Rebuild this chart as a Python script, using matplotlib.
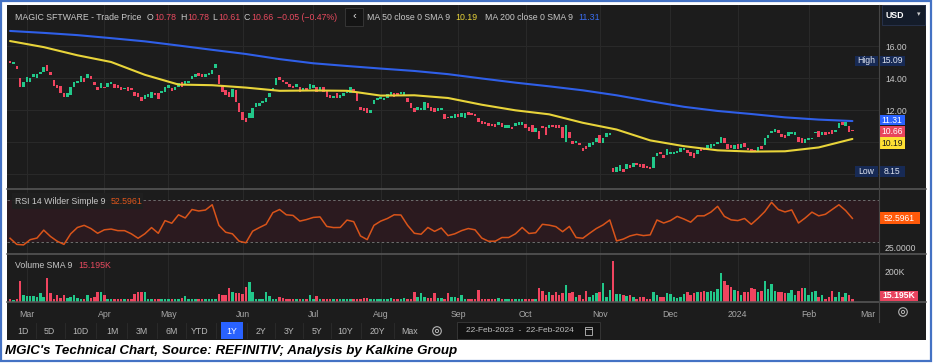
import matplotlib
matplotlib.use('Agg')
import matplotlib.pyplot as plt
import numpy as np
from matplotlib.patches import Rectangle, Circle

plt.rcParams['font.family'] = ['Liberation Sans', 'DejaVu Sans']

# --------------------------
# data (daily bars, 22-Feb-2023 .. 22-Feb-2024)
# --------------------------
opens = [
    15.09, 14.86, 14.75, 13.98, 13.46, 13.73, 13.77, 14.08, 14.00, 14.23,
    14.40, 14.81, 14.40, 13.88, 13.55, 13.50, 13.04, 12.83, 12.94, 13.46,
    13.67, 13.77, 13.98, 14.02, 14.15, 13.77, 13.46, 13.35, 13.46, 13.46,
    13.63, 13.60, 13.56, 13.46, 13.29, 13.46, 13.40, 13.15, 13.04, 12.83,
    12.69, 12.83, 12.77, 13.08, 13.04, 13.04, 13.15, 13.35, 13.40, 13.25,
    13.46, 13.77, 13.60, 13.67, 13.92, 14.08, 14.29, 14.23, 14.08, 14.19,
    14.23, 14.65, 14.19, 13.56, 13.25, 13.15, 12.83, 13.25, 12.42, 11.85,
    11.48, 11.48, 11.48, 12.21, 12.27, 12.42, 12.52, 12.83, 13.19, 13.56,
    14.08, 13.88, 13.77, 13.60, 13.52, 13.46, 13.46, 13.19, 13.40, 13.31,
    13.40, 13.46, 13.25, 13.46, 13.19, 12.94, 12.77, 13.04, 12.73, 12.90,
    13.04, 13.04, 13.31, 13.15, 12.21, 12.15, 12.10, 11.79, 12.35, 12.63,
    12.69, 12.63, 12.77, 12.94, 13.04, 13.08, 13.00, 12.94, 12.77, 12.42,
    12.10, 12.00, 12.00, 12.00, 12.42, 12.21, 12.10, 11.94, 12.00, 11.73,
    11.58, 11.48, 11.52, 11.73, 11.58, 11.52, 11.85, 11.79, 11.75, 11.48,
    11.31, 11.23, 11.17, 11.15, 11.10, 11.06, 11.17, 10.85, 10.90, 10.96,
    11.02, 11.06, 11.06, 11.10, 10.96, 11.06, 10.65, 10.69, 11.02, 10.96,
    10.85, 11.06, 11.06, 11.06, 10.96, 10.02, 10.60, 10.06, 9.92, 9.92,
    9.65, 9.75, 9.71, 9.81, 10.02, 10.44, 9.92, 10.33, 10.44, 8.40,
    8.15, 8.19, 8.31, 8.31, 8.56, 8.46, 8.67, 8.60, 8.60, 8.52,
    8.46, 8.40, 9.15, 9.40, 9.19, 9.19, 9.23, 9.27, 9.29, 9.40,
    9.50, 9.50, 9.35, 9.29, 9.23, 9.60, 9.60, 9.56, 9.65, 9.73,
    9.85, 9.92, 10.23, 9.85, 9.81, 9.56, 9.85, 9.65, 9.92, 9.65,
    9.56, 9.50, 9.35, 9.77, 9.81, 10.23, 10.54, 10.65, 10.75, 10.48,
    10.44, 10.40, 10.48, 10.44, 10.33, 10.23, 9.92, 10.13, 10.19, 10.54,
    10.69, 10.44, 10.60, 10.60, 10.75, 10.60, 10.85, 11.27, 11.02, 11.02,
    10.78,
]
closes = [
    14.92, 14.98, 14.56, 13.46, 13.73, 14.08, 14.02, 14.23, 14.25, 14.40,
    14.71, 14.44, 14.19, 13.50, 13.40, 13.04, 12.83, 13.04, 13.46, 13.77,
    13.80, 14.15, 13.77, 14.25, 13.94, 13.56, 13.25, 13.67, 13.35, 13.67,
    13.73, 13.40, 13.35, 13.25, 13.40, 13.19, 13.25, 12.90, 12.83, 12.56,
    12.94, 12.98, 13.15, 12.94, 12.69, 13.19, 13.46, 13.56, 13.19, 13.46,
    13.67, 13.46, 13.81, 13.81, 14.15, 14.23, 14.15, 14.08, 14.23, 14.29,
    14.50, 14.85, 13.60, 13.15, 12.94, 12.83, 13.31, 12.52, 11.85, 11.38,
    11.23, 11.79, 12.15, 12.42, 12.42, 12.56, 12.73, 13.04, 13.40, 13.98,
    13.88, 13.73, 13.60, 13.46, 13.35, 13.60, 13.15, 13.35, 13.19, 13.60,
    13.58, 13.15, 13.46, 13.15, 12.83, 12.77, 12.90, 12.73, 12.94, 13.04,
    13.25, 13.46, 13.04, 12.56, 12.00, 11.94, 11.79, 12.00, 12.63, 12.77,
    12.83, 12.77, 12.98, 13.15, 12.83, 12.94, 13.15, 13.15, 12.48, 12.15,
    11.90, 12.21, 12.15, 12.48, 12.10, 11.94, 11.90, 12.10, 12.10, 11.42,
    11.48, 11.64, 11.73, 11.56, 11.79, 11.79, 11.69, 11.69, 11.65, 11.27,
    11.15, 11.10, 11.02, 10.98, 10.94, 11.27, 10.96, 11.06, 11.06, 10.81,
    11.21, 11.23, 11.23, 10.90, 10.69, 10.65, 10.85, 10.19, 10.85, 10.44,
    11.06, 10.96, 10.90, 10.85, 10.27, 11.06, 10.23, 9.85, 10.06, 9.81,
    9.44, 9.56, 9.92, 9.98, 10.23, 9.92, 10.27, 10.54, 10.54, 8.15,
    8.46, 8.56, 8.15, 8.60, 8.35, 8.67, 8.56, 8.46, 8.40, 8.40,
    8.31, 9.08, 9.29, 9.23, 9.02, 9.56, 9.35, 9.40, 9.44, 9.60,
    9.65, 9.29, 9.15, 8.98, 9.50, 9.44, 9.48, 9.81, 9.85, 9.85,
    10.02, 10.33, 9.92, 9.56, 9.60, 9.81, 9.56, 9.85, 9.71, 9.50,
    9.35, 9.35, 9.71, 9.56, 10.23, 10.44, 10.69, 10.81, 10.54, 10.33,
    10.27, 10.60, 10.60, 10.65, 9.98, 9.92, 10.19, 10.27, 10.27, 10.65,
    10.33, 10.60, 10.44, 10.48, 10.48, 10.75, 11.17, 11.06, 11.27, 10.60,
    10.66,
]
# volume, thousands of shares
volume_k = [
    22, 11, 18, 138, 44, 40, 40, 38, 33, 55,
    33, 155, 55, 22, 44, 27, 44, 27, 33, 44,
    27, 22, 22, 44, 27, 33, 66, 62, 44, 22,
    18, 22, 18, 18, 18, 22, 22, 49, 62, 66,
    66, 22, 22, 22, 18, 22, 18, 22, 18, 18,
    22, 27, 40, 22, 22, 18, 18, 18, 18, 22,
    18, 22, 49, 44, 44, 93, 62, 55, 55, 49,
    100, 129, 66, 22, 18, 22, 62, 40, 22, 22,
    33, 27, 22, 18, 18, 22, 18, 18, 22, 44,
    22, 40, 22, 22, 22, 18, 18, 22, 22, 18,
    18, 22, 18, 22, 22, 29, 27, 22, 18, 22,
    22, 22, 18, 27, 22, 22, 22, 27, 18, 18,
    66, 33, 55, 33, 27, 27, 55, 27, 27, 22,
    55, 33, 33, 27, 44, 22, 18, 18, 18, 78,
    18, 22, 18, 18, 18, 27, 18, 18, 18, 22,
    22, 18, 18, 18, 18, 18, 18, 89, 71, 44,
    67, 44, 62, 44, 55, 111, 55, 62, 33, 44,
    22, 71, 33, 44, 55, 62, 122, 33, 78, 262,
    49, 49, 44, 40, 44, 33, 18, 33, 33, 22,
    22, 62, 44, 33, 33, 55, 49, 33, 27, 33,
    49, 66, 44, 55, 62, 62, 71, 62, 71, 62,
    84, 189, 138, 111, 100, 78, 71, 44, 62, 66,
    89, 84, 66, 71, 138, 84, 115, 71, 66, 62,
    55, 55, 78, 44, 71, 89, 93, 44, 62, 71,
    33, 44, 22, 33, 71, 33, 66, 33, 55, 44,
    22,
]
# RSI 14, read every second bar
rsi_vals = [
    33.8, 28.0, 27.5, 32.5, 34.0, 41.5, 35.5, 31.0, 28.0, 38.0,
    44.0, 46.0, 43.0, 38.5, 41.8, 42.5, 41.0, 41.0, 38.0, 33.8,
    38.0, 43.9, 38.5, 50.5, 48.0, 56.0, 53.0, 61.0, 59.6, 60.5,
    65.5, 46.0, 39.5, 38.0, 31.0, 29.5, 40.5, 43.9, 47.0, 58.0,
    61.0, 56.0, 55.4, 50.0, 51.5, 53.5, 54.0, 45.0, 43.9, 44.0,
    51.0, 49.5, 36.0, 32.5, 46.0, 50.0, 52.5, 56.0, 55.8, 46.0,
    38.5, 37.6, 44.0, 40.3, 43.5, 36.3, 38.0, 41.0, 43.0, 41.8,
    34.0, 31.0, 31.0, 34.5, 34.5, 38.0, 44.0, 38.3, 39.0, 47.0,
    46.2, 44.8, 40.0, 45.0, 34.5, 33.8, 38.5, 43.0, 46.4, 51.1,
    31.3, 33.0, 36.0, 37.5, 36.3, 37.0, 51.1, 48.2, 50.5, 54.5,
    52.0, 49.0, 55.0, 55.0, 58.5, 64.0, 54.5, 51.2, 50.5, 52.5,
    47.0, 52.7, 59.0, 67.8, 61.0, 58.7, 60.6, 48.2, 53.0, 58.5,
    55.0, 56.5, 61.0, 65.5, 60.0, 52.6,
]
# moving averages, read every tenth bar
ma50 = [16.31, 15.93, 15.42, 15.00, 14.20, 13.59, 13.55, 13.40, 13.20, 13.22,
        13.20, 12.90, 12.92, 12.75, 12.33, 11.98, 11.73, 11.20, 10.78, 10.10,
        9.74, 9.48, 9.40, 9.42, 9.66, 10.19]
ma200 = [16.94, 16.82, 16.68, 16.49, 16.29, 16.03, 15.76, 15.50, 15.18, 14.92,
         14.75, 14.59, 14.44, 14.24, 13.97, 13.71, 13.48, 13.23, 12.92, 12.55,
         12.20, 11.94, 11.75, 11.54, 11.40, 11.31]

month_starts = [5, 28, 47, 69, 90, 110, 133, 153, 175, 196, 216, 237, 257]
month_labels = ['Mar', 'Apr', 'May', 'Jun', 'Jul', 'Aug', 'Sep', 'Oct', 'Nov',
                'Dec', '2024', 'Feb', 'Mar']
range_buttons = ['1D', '5D', '10D', '1M', '3M', '6M', 'YTD', '1Y', '2Y', '3Y',
                 '5Y', '10Y', '20Y', 'Max']
button_x = [23, 49, 80, 112, 142, 172, 200, 232, 261, 289, 317, 345, 377, 410]

# --------------------------
# colours
# --------------------------
BG = '#1c1c1c'
GRID = '#2a2a2a'
UP = '#22c88a'
DOWN = '#f0445f'
TXT = '#c8c8c8'
NAVY = '#172a55'
NARROW = ['Liberation Sans Narrow', 'Liberation Sans']

W, H = 933, 363
fig = plt.figure(figsize=(W / 100, H / 100), dpi=100)
fig.patch.set_facecolor('white')


def rect_of(x0, y0, x1, y1):
    # pixel box (origin top-left) -> figure fraction rect
    return [x0 / W, 1 - y1 / H, (x1 - x0) / W, (y1 - y0) / H]


bg = fig.add_axes([0, 0, 1, 1], zorder=0)
bg.set_xlim(0, W)
bg.set_ylim(H, 0)
bg.axis('off')
bg.add_patch(Rectangle((7, 5), 919, 335, fc=BG, ec='none'))
bg.add_patch(Rectangle((1, 1), W - 3, H - 3, fc='none', ec='#4472c4', lw=1.6))

ax_p = fig.add_axes(rect_of(7, 5, 879, 189), zorder=1)
ax_r = fig.add_axes(rect_of(7, 189, 879, 254), zorder=1)
ax_v = fig.add_axes(rect_of(7, 254, 879, 302), zorder=1)

idx = np.arange(len(closes))
o = np.array(opens)
c = np.array(closes)
up = c >= o
colors = np.where(up, UP, DOWN)

for ax in (ax_p, ax_r, ax_v):
    ax.set_facecolor(BG)
    for s in ax.spines.values():
        s.set_visible(False)
    ax.set_xlim(-0.9, 257.9)
    for m in month_starts[:-1]:
        ax.axvline(m, color=GRID, lw=0.7, zorder=0)
    ax.yaxis.tick_right()
    ax.tick_params(axis='y', length=0, pad=4.3, labelsize=6.2, labelcolor=TXT)
    ax.tick_params(axis='x', length=0)
    ax.set_xticks([])

# price panel
ax_p.set_ylim(7.0625, 18.5625)
for lv in [8, 10, 12, 14, 16]:
    ax_p.axhline(lv, color=GRID, lw=0.7, zorder=0)
body_lo = np.minimum(o, c)
body_h = np.maximum(np.abs(c - o), 0.04)
ax_p.bar(idx, body_h, bottom=body_lo, width=0.74, color=colors, linewidth=0, zorder=2)
ma_idx = np.arange(0, len(closes), 10)
ax_p.plot(ma_idx, ma200, color='#2f5fe8', lw=1.5, zorder=3, solid_capstyle='round')
ax_p.plot(ma_idx, ma50, color='#e8d43a', lw=1.5, zorder=3, solid_capstyle='round')
ax_p.set_yticks([12, 14, 16])
ax_p.set_yticklabels(['12.00', '14.00', '16.00'])

# RSI panel
ax_r.set_ylim(18.9, 80.4)
ax_r.axhspan(30, 70, fc='#2b1a1f', ec='none', zorder=0)
for lv in [30, 70]:
    ax_r.axhline(lv, color='#6e6e6e', lw=0.7, ls=(0, (2.5, 2.5)), zorder=1)
rsi_idx = np.arange(0, len(closes), 2)
ax_r.plot(rsi_idx, rsi_vals, color='#d9541a', lw=1.1, zorder=3)
ax_r.set_yticks([25])
ax_r.set_yticklabels(['25.0000'])

# volume panel
ax_v.set_ylim(0, 310)
ax_v.bar(idx, volume_k, width=0.74, color=colors, linewidth=0, zorder=2)
ax_v.set_yticks([200])
ax_v.set_yticklabels(['200K'])
ax_v.set_xticks(month_starts)
ax_v.set_xticklabels(month_labels, fontsize=6.3, color='#a8a8a8', family=NARROW)
ax_v.tick_params(axis='x', length=0, pad=5.5)
ax_v.get_xticklabels()[-1].set_ha('right')

# --------------------------
# overlay: header, tags, separators, toolbar, caption
# --------------------------
ov = fig.add_axes([0, 0, 1, 1], zorder=5)
ov.set_xlim(0, W)
ov.set_ylim(H, 0)
ov.axis('off')
ov.patch.set_alpha(0)


def to_px(ax, v):
    return H - ax.transData.transform((0, v))[1]


for yy in [189, 254, 302]:
    ov.plot([7, 926], [yy, yy], color='#5a5a5a', lw=1.1)
ov.plot([879, 879], [5, 322], color='#454545', lw=0.8)

hdr = dict(fontsize=6.3, va='center')
RED = '#e84a5f'
ov.text(15, 17, 'MAGIC SFTWARE - Trade Price', color=TXT, **hdr)
for x_l, let, x_v, val in [(147, 'O', 154, '10.78'), (180, 'H', 187, '10.78'),
                           (212, 'L', 218, '10.61'), (243, 'C', 251, '10.66')]:
    ov.text(x_l, 17, let, color=TXT, **hdr)
    ov.text(x_v, 17, val, color=RED, **hdr)
ov.text(277, 17, '\u22120.05 (\u22120.47%)', color=RED, **hdr)
ov.add_patch(Rectangle((345, 8), 18, 18, fc='#141414', ec='#3a3a3a', lw=0.6))
ov.text(354, 16.5, '\u2039', color='#dddddd', fontsize=8, ha='center', va='center')
ov.text(367, 17, 'MA 50 close 0 SMA 9', color=TXT, **hdr)
ov.text(455, 17, '10.19', color='#e8d43a', **hdr)
ov.text(485, 17, 'MA 200 close 0 SMA 9', color=TXT, **hdr)
ov.text(578, 17, '11.31', color='#3a6df0', **hdr)

# currency selector
ov.add_patch(Rectangle((882, 5), 43, 20, fc='#141c2a', ec='#2a3550', lw=0.6))
ov.text(886, 15, 'USD', color='white', fontsize=6.3, fontweight='bold', va='center')
ov.text(919, 15, '\u25be', color='#cccccc', fontsize=5, ha='center', va='center')


def tag(x0, x1, yc, h, fc, txt, tc='white', bold=False):
    ov.add_patch(Rectangle((x0, yc - h / 2), x1 - x0, h, fc=fc, ec='none'))
    ov.text((x0 + x1) / 2, yc, txt, color=tc, fontsize=6.2, ha='center', va='center',
            fontweight='bold' if bold else 'normal')


y_high = to_px(ax_p, 15.09)
y_low = to_px(ax_p, 8.15)
tag(855, 878, y_high, 10, NAVY, 'High', '#dfe4f0')
tag(879, 905, y_high, 10, NAVY, '15.09', '#dfe4f0')
tag(855, 878, y_low, 11, NAVY, 'Low', '#dfe4f0')
tag(879, 905, y_low, 11, NAVY, '8.15', '#dfe4f0')
tag(879, 905, to_px(ax_p, 11.31) - 1, 10, '#2962ff', '11.31')
tag(879, 905, to_px(ax_p, 10.66), 11, '#e8455c', '10.66')
tag(879, 905, to_px(ax_p, 10.19) + 4.5, 12, '#ffe033', '10.19', '#1a1a1a')
tag(879, 920, to_px(ax_r, rsi_vals[-1]), 12, '#ff5a0a', '52.5961')
tag(879, 918, 295.5, 10, '#e8435e', '15.195K', bold=True)

# panel titles
ov.add_patch(Rectangle((12, 193), 131, 16, fc='#202020', ec='none', alpha=0.92))
ov.text(15, 201, 'RSI 14 Wilder Simple 9', color=TXT, **hdr)
ov.text(111, 201, '52.5961', color='#e0561c', **hdr)
ov.text(15, 266, 'Volume SMA 9', color=TXT, **hdr)
ov.text(78, 266, '15.195K', color=RED, **hdr)

# settings icons
for cx, cy in [(903, 312), (437, 331)]:
    ov.add_patch(Circle((cx, cy), 4.3, fc='none', ec='#b5b5b5', lw=0.8))
    ov.add_patch(Circle((cx, cy), 1.6, fc='none', ec='#b5b5b5', lw=0.7))

# range toolbar
for i, (lab, bx) in enumerate(zip(range_buttons, button_x)):
    if lab == '1Y':
        ov.add_patch(Rectangle((bx - 11, 322), 22, 17, fc='#2962ff', ec='none'))
    if i > 0:
        sx = (bx + button_x[i - 1]) / 2
        ov.plot([sx, sx], [323, 338], color='#2c2c2c', lw=0.6)
    ov.text(bx, 331, lab, color='white' if lab == '1Y' else '#b8b8b8', fontsize=6.3,
            ha='center', va='center', family=NARROW)
ov.add_patch(Rectangle((457, 322), 143, 17, fc='#131313', ec='#3a3a3a', lw=0.6))
ov.text(466, 331, '22-Feb-2023  -  22-Feb-2024', color='#c0c0c0', fontsize=6.0,
        va='center', family=NARROW)
ov.add_patch(Rectangle((585, 326.5), 7, 8, fc='none', ec='#bbbbbb', lw=0.6))
ov.plot([585, 592], [328.5, 328.5], color='#bbbbbb', lw=0.6)

# caption
ov.text(5, 351, "MGIC's Technical Chart, Source: REFINITIV; Analysis by Kalkine Group",
        fontsize=9.6, fontweight='bold', fontstyle='italic', color='black', va='center',
        family=NARROW)

fig.savefig('out.png', dpi=100, facecolor=fig.get_facecolor())
